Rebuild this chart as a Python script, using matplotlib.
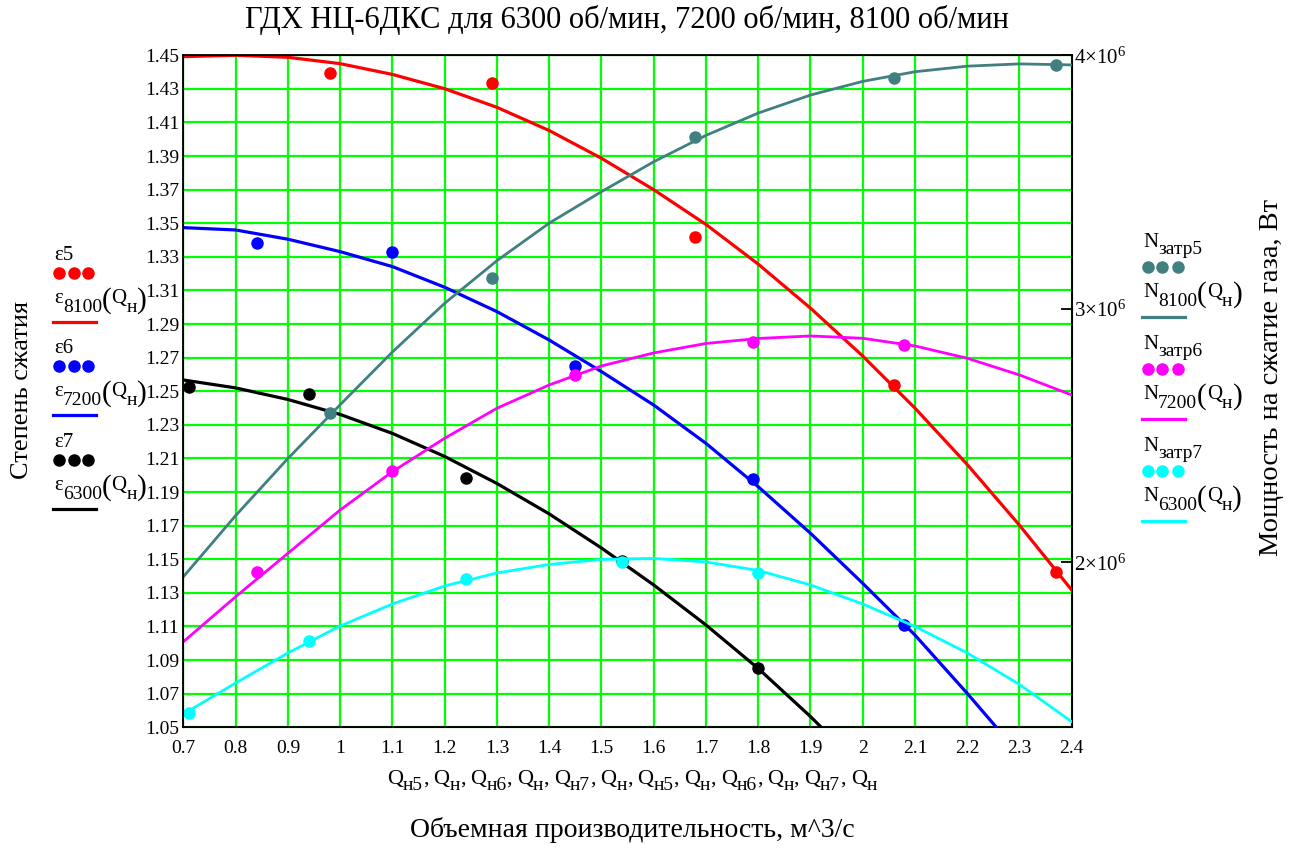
# Gas-dynamic characteristics of a centrifugal compressor at three shaft speeds
import numpy as np
import matplotlib.pyplot as plt

plt.rcParams['font.family'] = ['Liberation Serif', 'DejaVu Serif']
plt.rcParams['mathtext.fontset'] = 'custom'
plt.rcParams['mathtext.rm'] = 'Liberation Serif'
plt.rcParams['mathtext.it'] = 'Liberation Serif:italic'

# flow rate grid for the regression curves, m^3/s
q_grid = [0.7, 0.8, 0.9, 1.0, 1.1, 1.2, 1.3, 1.4, 1.5,
          1.6, 1.7, 1.8, 1.9, 2.0, 2.1, 2.2, 2.3, 2.4]

# measured points
q5 = [0.98, 1.29, 1.68, 2.06, 2.37]
eps5 = [1.4393, 1.4333, 1.3417, 1.2538, 1.1423]
n_zatr5 = [2.591e6, 3.123e6, 3.677e6, 3.909e6, 3.962e6]

q6 = [0.84, 1.10, 1.45, 1.79, 2.08]
eps6 = [1.3381, 1.3331, 1.2651, 1.1976, 1.1109]
n_zatr6 = [1.961e6, 2.362e6, 2.739e6, 2.871e6, 2.858e6]

q7 = [0.71, 0.94, 1.24, 1.54, 1.80]
eps7 = [1.2527, 1.2484, 1.1982, 1.1490, 1.0851]
n_zatr7 = [1.405e6, 1.692e6, 1.934e6, 2.003e6, 1.960e6]

# pressure ratio curves
eps8100 = [1.4492, 1.4500, 1.4488, 1.4450, 1.4386, 1.4301, 1.4190, 1.4052, 1.3887,
           1.3700, 1.3493, 1.3257, 1.2995, 1.2710, 1.2400, 1.2064, 1.1703, 1.1317]
eps7200 = [1.3474, 1.3460, 1.3405, 1.3331, 1.3242, 1.3119, 1.2974, 1.2805, 1.2617,
           1.2418, 1.2190, 1.1932, 1.1655, 1.1357, 1.1049, 1.0702, 1.0340, 0.9950]
eps6300 = [1.2567, 1.2520, 1.2451, 1.2362, 1.2249, 1.2112, 1.1951, 1.1770, 1.1567,
           1.1347, 1.1109, 1.0850, 1.0564, 1.0255]

# compression power curves, W
n8100 = [1.944e6, 2.185e6, 2.410e6, 2.622e6, 2.830e6, 3.022e6, 3.190e6, 3.338e6, 3.462e6,
         3.580e6, 3.684e6, 3.772e6, 3.843e6, 3.897e6, 3.935e6, 3.957e6, 3.966e6, 3.962e6]
n7200 = [1.6876e6, 1.8650e6, 2.0362e6, 2.2069e6, 2.3580e6, 2.4897e6, 2.6080e6, 2.6999e6, 2.7748e6,
         2.8261e6, 2.8635e6, 2.8832e6, 2.8931e6, 2.8840e6, 2.8537e6, 2.8052e6, 2.7393e6, 2.6604e6]
n6300 = [1.4024e6, 1.5247e6, 1.6430e6, 1.7495e6, 1.8362e6, 1.9072e6, 1.9585e6, 1.9920e6, 2.0117e6,
         2.0157e6, 2.0019e6, 1.9683e6, 1.9112e6, 1.8362e6, 1.7475e6, 1.6430e6, 1.5188e6, 1.3721e6]

power_ticks = [2e6, 3e6, 4e6]
power_labels = [r'$2{\times}10^{6}$', r'$3{\times}10^{6}$', r'$4{\times}10^{6}$']

TEAL = '#408080'
GRID = '#00ff00'

fig = plt.figure(figsize=(13.02, 8.49), dpi=100)
ax = fig.add_axes([0.1409, 0.1434, 0.6822, 0.7915])

# left axis: pressure ratio
ax.plot(q_grid, eps8100, color='red', lw=2.3, zorder=3)
ax.plot(q_grid[:len(eps7200)], eps7200, color='blue', lw=2.3, zorder=3)
ax.plot(q_grid[:len(eps6300)], eps6300, color='black', lw=2.3, zorder=3)
ax.plot(q5, eps5, 'o', color='red', ms=8, zorder=4)
ax.plot(q6, eps6, 'o', color='blue', ms=8, zorder=4)
ax.plot(q7, eps7, 'o', color='black', ms=8, zorder=4)

eps_ticks = np.arange(1.05, 1.4501, 0.02)
ax.set_xlim(0.7, 2.4)
ax.set_ylim(1.05, 1.45)
ax.set_xticks(q_grid)
ax.set_xticklabels([f'{v:g}' for v in q_grid])
ax.set_yticks(eps_ticks)
ax.set_yticklabels([f'{v:.2f}' for v in eps_ticks])
ax.grid(True, color=GRID, lw=1.6, zorder=0)
ax.set_axisbelow(True)
ax.tick_params(length=0, labelsize=14)
ax.tick_params(axis='y', pad=3)
ax.tick_params(axis='x', pad=9)
for s in ax.spines.values():
    s.set_linewidth(1.3)

# right axis: compression power
ax2 = ax.twinx()
ax2.plot(q_grid, n8100, color=TEAL, lw=2.0)
ax2.plot(q_grid, n7200, color='magenta', lw=2.0)
ax2.plot(q_grid, n6300, color='cyan', lw=2.0)
ax2.plot(q5, n_zatr5, 'o', color=TEAL, ms=8)
ax2.plot(q6, n_zatr6, 'o', color='magenta', ms=8)
ax2.plot(q7, n_zatr7, 'o', color='cyan', ms=8)
ax2.set_ylim(1.35e6, 4.0e6)
ax2.set_yticks(power_ticks)
ax2.set_yticklabels(power_labels)
ax2.tick_params(direction='in', length=8, width=1.3, labelsize=15, pad=2)

# overlay in pixel units for titles and legends
ov = fig.add_axes([0, 0, 1, 1])
ov.set_xlim(0, 1302)
ov.set_ylim(849, 0)
ov.axis('off')
renderer = fig.canvas.get_renderer()


def rich(x, y, parts, size=15, sub_size=14, drop=8, center=False):
    """Write text pieces one after another; kind 1 = subscript, 2 = big paren, 3 = gap."""
    arts = []
    cx = x
    for txt, kind in parts:
        if kind == 3:
            cx += txt
            continue
        fs, dy = size, 0
        if kind == 1:
            fs, dy = sub_size, drop
        elif kind == 2:
            fs, dy = size * 1.4, 5
        t = ov.text(cx, y + dy, txt, fontsize=fs, ha='left', va='baseline')
        cx = t.get_window_extent(renderer).x1
        arts.append(t)
    if center:
        shift = (cx - x) / 2
        for t in arts:
            t.set_x(t.get_position()[0] - shift)
    return arts


def func_label(base, speed):
    return [(base, 0), (speed, 1), ('(', 2), ('Q', 0), ('н', 1), (')', 2)]


ov.text(627, 20, 'ГДХ НЦ-6ДКС для 6300 об/мин, 7200 об/мин, 8100 об/мин',
        ha='center', va='center', fontsize=22)
ov.text(22, 390, 'Степень сжатия', rotation=90, ha='center', va='center', fontsize=19)
ov.text(1271, 378, 'Мощность на сжатие газа, Вт', rotation=90,
        ha='center', va='center', fontsize=20.5)
ov.text(632, 830, 'Объемная производительность, м^3/с', ha='center', va='center', fontsize=20)

q_parts = []
for i, s in enumerate(['н5', 'н', 'н6', 'н', 'н7', 'н', 'н5', 'н', 'н6', 'н', 'н7', 'н']):
    q_parts += [('Q', 0), (s, 1)]
    if i < 11:
        q_parts += [(',', 0), (5, 3)]
rich(632, 784, q_parts, size=16, sub_size=14, drop=6, center=True)

left_items = [('5', '8100', 'red', 260), ('6', '7200', 'blue', 353), ('7', '6300', 'black', 447)]
for idx, speed, col, yb in left_items:
    ov.text(54, yb, 'ε' + idx, ha='left', va='baseline', fontsize=15)
    ov.plot([59, 74, 88], [yb + 13] * 3, 'o', color=col, ms=8)
    rich(54, yb + 43, func_label('ε', speed), size=15, sub_size=14, drop=9)
    ov.plot([53, 96], [yb + 62] * 2, color=col, lw=2.3)

right_items = [('5', '8100', TEAL, 247), ('6', '7200', 'magenta', 349), ('7', '6300', 'cyan', 451)]
for idx, speed, col, yb in right_items:
    rich(1143, yb, [('N', 0), ('затр' + idx, 1)], size=15, sub_size=14, drop=7)
    ov.plot([1148, 1162, 1178], [yb + 20] * 3, 'o', color=col, ms=8)
    rich(1143, yb + 50, func_label('N', speed), size=15, sub_size=14, drop=9)
    ov.plot([1142, 1185], [yb + 70] * 2, color=col, lw=2.3)

fig.savefig('out.png', dpi=100)
